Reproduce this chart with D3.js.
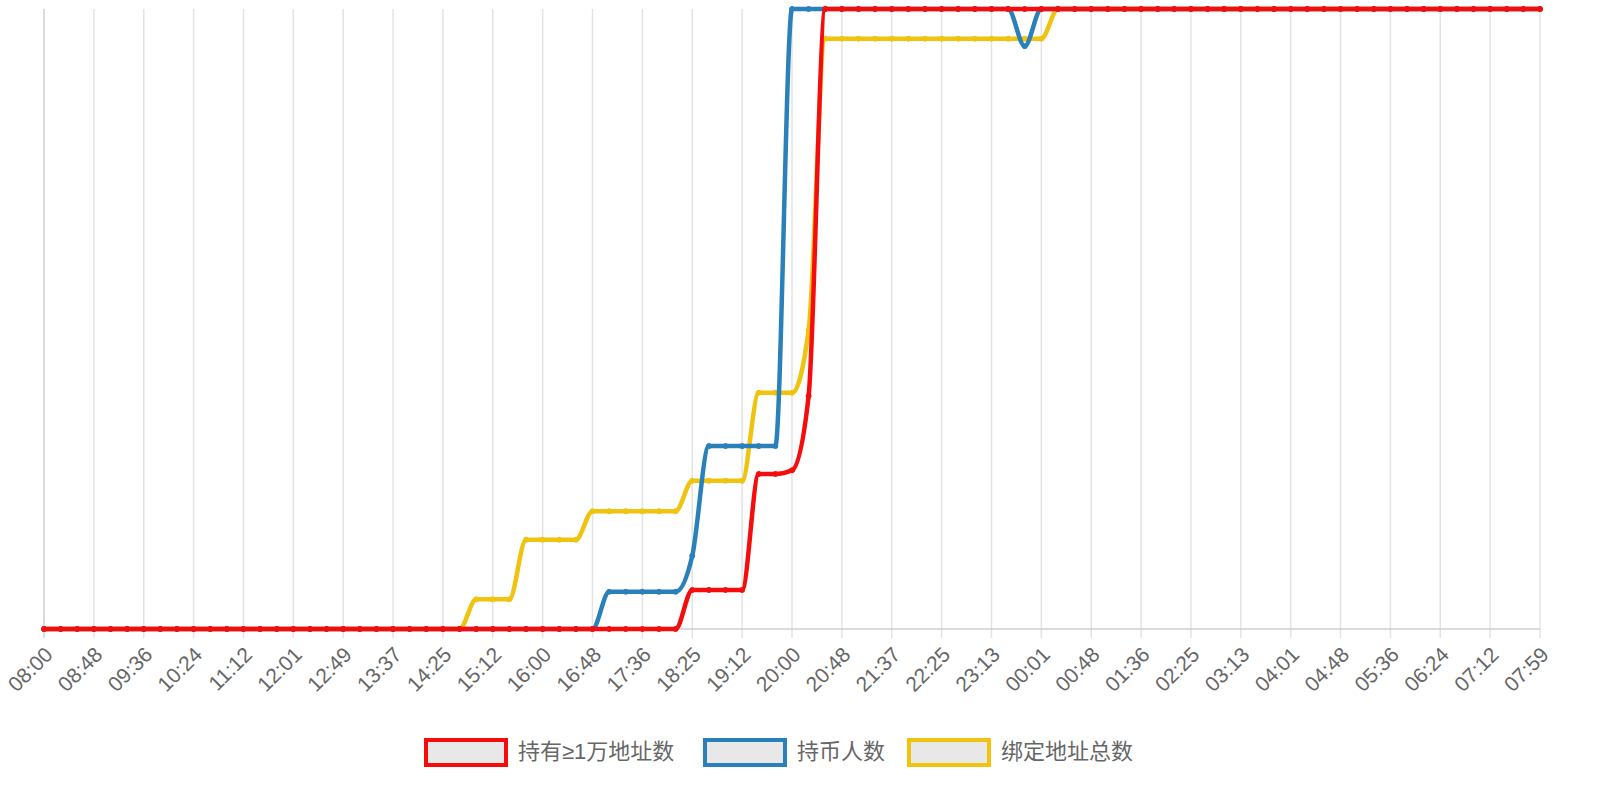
<!DOCTYPE html>
<html><head><meta charset="utf-8">
<script src="https://cdn.jsdelivr.net/npm/d3@7/dist/d3.min.js"></script>
<style>body{margin:0;background:#fff}</style></head>
<body><svg id="c" width="1600" height="800"></svg>
<script>
const tickLabels=["08:00","08:48","09:36","10:24","11:12","12:01","12:49","13:37","14:25","15:12","16:00","16:48","17:36","18:25","19:12","20:00","20:48","21:37","22:25","23:13","00:01","00:48","01:36","02:25","03:13","04:01","04:48","05:36","06:24","07:12","07:59"];
const seriesNames=["持有≥1万地址数","持币人数","绑定地址总数"];
const seriesColors=["#f50d0d","#2a80ba","#f0c30f"];
// values per point index (91 points, 3 per labelled tick)
const redV=[];for(let i=0;i<91;i++)redV.push(i<39?0:i<43?6.3:i<45?25:i===45?25.6:i===46?37.6:100);
const blueV=[];for(let i=0;i<91;i++)blueV.push(i<34?0:i<39?6:i===39?11.8:i<45?29.5:i===59?94:100);
const yellowV=[];for(let i=0;i<91;i++)yellowV.push(i<26?0:i<29?4.8:i<33?14.4:i<39?19:i<43?23.9:i<46?38.1:i===46?48.2:i<61?95.2:100);
const data=[yellowV,blueV,redV];
const order=[2,1,0];

const svg=d3.select("#c");
const x=d3.scaleLinear().domain([0,90]).range([44,1540]);
const y=d3.scaleLinear().domain([0,100]).range([629,9]);
const g=svg.append("g");
tickLabels.forEach((t,j)=>{
  const px=x(j*3);
  g.append("line").attr("x1",px).attr("x2",px).attr("y1",9).attr("y2",638).attr("stroke",j===0?"#cfcfcf":"#e3e3e3").attr("stroke-width",1.5);
  g.append("text").attr("transform",`translate(${px+6},${652}) rotate(-45)`).attr("text-anchor","end").attr("dominant-baseline","middle")
   .attr("font-family","Liberation Sans, Arial").attr("font-size",21).attr("fill","#666").text(t);
});
g.append("line").attr("x1",44).attr("x2",1540).attr("y1",629).attr("y2",629).attr("stroke","#cfcfcf").attr("stroke-width",1.5);
const line=d3.line().x((d,i)=>x(i)).y(d=>y(d)).curve(d3.curveMonotoneX);
data.forEach((vals,k)=>{
  const c=seriesColors[order[k]];
  svg.append("path").attr("d",line(vals)).attr("fill","none").attr("stroke",c).attr("stroke-width",4.5);
  svg.append("g").selectAll("circle").data(vals).join("circle").attr("cx",(d,i)=>x(i)).attr("cy",d=>y(d)).attr("r",2.5).attr("fill",c).attr("stroke",c);
});
// legend
const lx=[426,705,909];
seriesNames.forEach((n,i)=>{
  svg.append("rect").attr("x",lx[i]).attr("y",740).attr("width",80).attr("height",25).attr("fill","#e8e8e8").attr("stroke",seriesColors[i]).attr("stroke-width",4);
  svg.append("text").attr("x",lx[i]+92).attr("y",753).attr("dominant-baseline","middle").attr("font-family","Liberation Sans, Noto Sans CJK SC").attr("font-size",22).attr("fill","#666").text(n);
});
</script></body></html>
